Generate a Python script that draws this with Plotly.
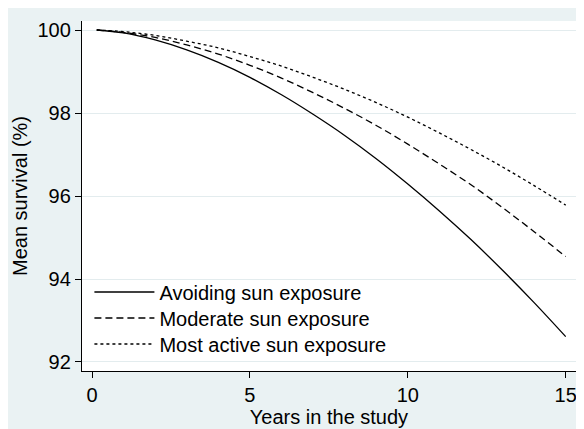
import plotly.graph_objects as go

years = [0.15, 1, 2, 3, 4, 5, 6, 7, 8, 9, 10, 11, 12, 13, 14, 15]
avoiding = [100.0, 99.93, 99.76, 99.52, 99.22, 98.86, 98.44, 97.97, 97.46, 96.90,
            96.29, 95.64, 94.95, 94.21, 93.43, 92.61]
moderate = [100.0, 99.94, 99.82, 99.64, 99.42, 99.15, 98.84, 98.49, 98.11, 97.70,
            97.25, 96.77, 96.27, 95.72, 95.14, 94.54]
most_active = [100.0, 99.96, 99.87, 99.73, 99.57, 99.36, 99.13, 98.86, 98.57, 98.25,
               97.90, 97.52, 97.12, 96.70, 96.25, 95.78]
names = ["Avoiding sun exposure", "Moderate sun exposure", "Most active sun exposure"]
x_ticks = [0, 5, 10, 15]
y_ticks = [92, 94, 96, 98, 100]

BG = "#eaf2f3"
FONT = "Liberation Sans, Arial, sans-serif"
FS = 20

fig = go.Figure()
series = [avoiding, moderate, most_active]
dashes = ["solid", "7px,4px", "3px,3px"]
legend_ids = ["legend", "legend2", "legend3"]
for vals, nm, dsh, lg in zip(series, names, dashes, legend_ids):
    fig.add_trace(go.Scatter(
        x=years, y=vals, mode="lines", name=nm, legend=lg,
        line=dict(color="black", width=1.3, dash=dsh, shape="spline"),
    ))

# page has an 8px body margin, so the figure is drawn at (8, 8)
W, H = 576, 421
L, R, T, B = 74, 8, 13, 58
ph = H - T - B


def leg(ypix):
    return dict(
        x=0.015, y=(H - B - ypix) / ph, xanchor="left", yanchor="middle",
        bgcolor="rgba(0,0,0,0)", borderwidth=0,
        font=dict(size=FS, family=FONT), itemwidth=60,
    )


fig.update_layout(
    width=W, height=H,
    margin=dict(l=L, r=R, t=T, b=B, pad=0),
    paper_bgcolor=BG, plot_bgcolor="white",
    font=dict(family=FONT, size=FS, color="black"),
    showlegend=True,
    legend=leg(284), legend2=leg(310), legend3=leg(336),
    xaxis=dict(
        range=[-0.317, 15.326], tickvals=x_ticks, ticks="outside", ticklen=6,
        tickcolor="black", tickwidth=1.3, showline=True, linecolor="black",
        linewidth=1.3, showgrid=False, zeroline=False, mirror=False,
        title=dict(text="Years in the study", font=dict(size=FS), standoff=2),
        tickfont=dict(size=FS),
    ),
    yaxis=dict(
        range=[91.783, 100.217], tickvals=y_ticks, ticks="outside", ticklen=6,
        tickcolor="black", tickwidth=1.3, showline=True, linecolor="black",
        linewidth=1.3, showgrid=True, gridcolor="#e3ecee", gridwidth=1,
        zeroline=False, mirror=False,
        title=dict(text="Mean survival (%)", font=dict(size=FS), standoff=4),
        tickfont=dict(size=FS),
    ),
)

fig.write_html("out.html")
